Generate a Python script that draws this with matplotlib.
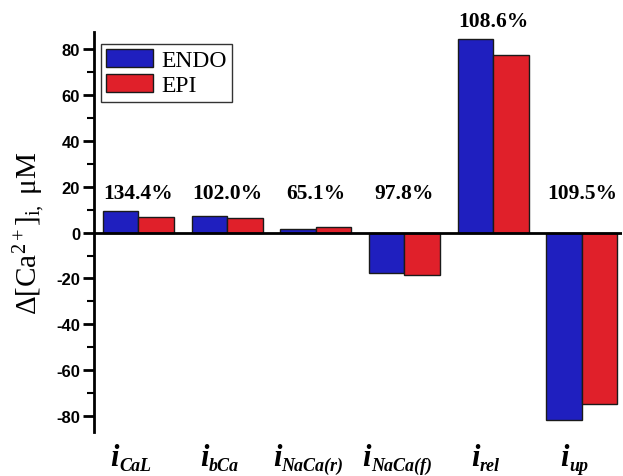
import matplotlib
matplotlib.use("Agg")
import matplotlib.pyplot as plt
import numpy as np
from matplotlib.ticker import MultipleLocator

plt.rcParams['mathtext.fontset'] = 'custom'
plt.rcParams['mathtext.it'] = 'Liberation Serif:italic'
plt.rcParams['mathtext.rm'] = 'Liberation Serif'
plt.rcParams['mathtext.bf'] = 'Liberation Serif:bold'
plt.rcParams['axes.unicode_minus'] = False

# current names: main symbol and subscript
current_sub = ['CaL', 'bCa', 'NaCa(r)', 'NaCa(f)', 'rel', 'up']
endo = [9.2, 7.2, 1.5, -17.8, 84.4, -81.8]
epi = [6.6, 6.2, 2.4, -18.3, 77.6, -74.6]
ratios = ['134.4%', '102.0%', '65.1%', '97.8%', '108.6%', '109.5%']
ratio_y = [17.2, 17.2, 17.2, 17.2, 92.4, 17.2]

fig = plt.figure(figsize=(6.23, 4.77), dpi=100)
ax = fig.add_axes([0.151, 0.092, 0.847, 0.839])

x = np.arange(len(current_sub))
w = 0.4
ax.bar(x - w / 2, endo, w, color='#1f1fbf', edgecolor='#1a1a1a', linewidth=1.0, label='ENDO', zorder=2)
ax.bar(x + w / 2, epi, w, color='#e0202a', edgecolor='#1a1a1a', linewidth=1.0, label='EPI', zorder=2)

for xi, txt, yy in zip(x, ratios, ratio_y):
    ax.text(xi, yy, txt, ha='center', va='center', fontsize=15.5, fontweight='bold',
            family='Liberation Serif')

ax.axhline(0, color='black', linewidth=2, zorder=3)

ax.set_xlim(-0.5, 5.45)
ax.set_ylim(-87, 87.5)

for s in ['top', 'right', 'bottom']:
    ax.spines[s].set_visible(False)
ax.spines['left'].set_linewidth(2)

ax.yaxis.set_major_locator(MultipleLocator(20))
ax.yaxis.set_minor_locator(MultipleLocator(10))
ax.tick_params(axis='y', which='major', length=8, width=2, direction='out', pad=2)
ax.tick_params(axis='y', which='minor', length=5, width=1.5, direction='out')
for lab in ax.get_yticklabels():
    lab.set_fontsize(12)
    lab.set_fontweight('bold')
    lab.set_family('Liberation Sans')

ax.set_xticks(x)
ax.set_xticklabels([])
ax.tick_params(axis='x', length=0)

# category labels: bold italic "i" with a bold italic subscript
lab_font = dict(family='Liberation Serif', style='italic', weight='bold')
base_i, base_s = -33, -38
pairs = []
for xi, sub in zip(x, current_sub):
    ti = ax.annotate('i', xy=(xi, 0), xycoords=('data', 'axes fraction'),
                     xytext=(0, base_i), textcoords='offset pixels',
                     ha='left', va='baseline', fontsize=22, annotation_clip=False, **lab_font)
    ts = ax.annotate(sub, xy=(xi, 0), xycoords=('data', 'axes fraction'),
                     xytext=(0, base_s), textcoords='offset pixels',
                     ha='left', va='baseline', fontsize=13, annotation_clip=False, **lab_font)
    pairs.append((ti, ts))

fig.canvas.draw()
renderer = fig.canvas.get_renderer()
for ti, ts in pairs:
    wi = ti.get_window_extent(renderer).width
    ws = ts.get_window_extent(renderer).width
    total = wi + ws - 1
    left = -total / 2 - 8
    ti.xyann = (left, base_i)
    ts.xyann = (left + wi, base_s)

ax.set_ylabel(r'$\Delta$[Ca$^{2+}$]$_{\mathrm{i,}}$ μM', fontsize=21, family='Liberation Serif', labelpad=6)

leg = ax.legend(loc='upper left', bbox_to_anchor=(0.013, 0.97), prop={'family': 'Liberation Serif', 'size': 17},
                frameon=True, fancybox=False, edgecolor='black', handlelength=2.0, handleheight=0.8,
                handletextpad=0.35, borderpad=0.22, labelspacing=0.12, borderaxespad=0)
leg.get_frame().set_linewidth(1.0)

fig.savefig('out.png', dpi=100)
